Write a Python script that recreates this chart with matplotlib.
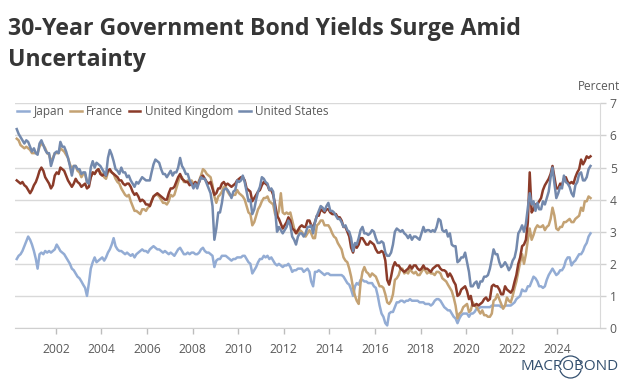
import matplotlib
matplotlib.use("Agg")
import matplotlib.pyplot as plt
import matplotlib.dates as mdates
import pandas as pd
from matplotlib.lines import Line2D
from matplotlib.patches import Arc

# Monthly observations, April 2000 - June 2025 (percent)
start_month = "2000-04-01"

japan = [
    2.15, 2.25, 2.3, 2.4, 2.55, 2.7, 2.85, 2.75, 2.6,
    2.4, 2.15, 1.85, 2.3, 2.35, 2.3, 2.4, 2.35, 2.4, 2.35, 2.4, 2.45,
    2.6, 2.5, 2.4, 2.35, 2.3, 2.2, 2.1, 2.0, 1.85, 1.8, 1.7, 1.6,
    1.55, 1.45, 1.35, 1.25, 1.0, 1.4, 1.85, 2.05, 2.2, 2.05, 2.1, 2.15,
    2.2, 2.1, 2.2, 2.35, 2.45, 2.6, 2.8, 2.55, 2.45, 2.4, 2.4, 2.35,
    2.3, 2.35, 2.3, 2.25, 2.3, 2.2, 2.3, 2.35, 2.4, 2.45, 2.4, 2.4,
    2.35, 2.45, 2.5, 2.55, 2.5, 2.45, 2.45, 2.4, 2.35, 2.4, 2.35, 2.3,
    2.35, 2.3, 2.25, 2.35, 2.45, 2.5, 2.4, 2.3, 2.3, 2.35, 2.3, 2.35,
    2.35, 2.3, 2.3, 2.35, 2.45, 2.5, 2.4, 2.35, 2.35, 2.3, 2.25, 1.9,
    2.1, 2.15, 2.15, 2.25, 2.25, 2.25, 2.2, 2.15, 2.1, 2.15, 2.15, 2.2,
    2.2, 2.2, 2.25, 2.25, 2.15, 2.05, 2.0, 1.7, 1.8, 1.9, 2.05, 2.15,
    2.15, 2.25, 2.2, 2.25, 2.15, 2.2, 2.1, 2.0, 1.95, 2.0, 1.95, 1.9,
    1.95, 1.95, 2.0, 1.9, 1.75, 1.8, 1.8, 1.85, 1.85, 1.85, 1.75, 1.8,
    1.85, 1.75, 1.45, 1.3, 1.75, 1.75, 1.8, 1.75, 1.7, 1.65, 1.7, 1.7,
    1.65, 1.65, 1.65, 1.65, 1.65, 1.65, 1.65, 1.6, 1.5, 1.4, 1.35, 1.2,
    1.0, 1.3, 1.4, 1.35, 1.5, 1.5, 1.45, 1.45, 1.4, 1.4, 1.4, 1.3,
    1.25, 1.0, 0.7, 0.45, 0.35, 0.15, 0.08, 0.45, 0.5, 0.5, 0.65, 0.8,
    0.8, 0.85, 0.85, 0.8, 0.85, 0.85, 0.9, 0.85, 0.85, 0.85, 0.85, 0.8,
    0.8, 0.8, 0.75, 0.75, 0.75, 0.7, 0.75, 0.85, 0.9, 0.9, 0.85, 0.75,
    0.65, 0.6, 0.55, 0.55, 0.45, 0.35, 0.3, 0.15, 0.3, 0.4, 0.45, 0.45,
    0.45, 0.35, 0.45, 0.45, 0.5, 0.6, 0.6, 0.65, 0.65, 0.65, 0.65, 0.65,
    0.65, 0.7, 0.7, 0.7, 0.7, 0.7, 0.65, 0.65, 0.7, 0.7, 0.7, 0.7,
    0.75, 0.8, 0.9, 0.95, 1.0, 1.2, 1.15, 1.15, 1.3, 1.3, 1.45, 1.6,
    1.55, 1.45, 1.3, 1.3, 1.25, 1.3, 1.5, 1.65, 1.75, 1.85, 1.75, 1.65,
    1.7, 1.8, 1.8, 1.9, 2.1, 2.2, 2.2, 1.95, 2.05, 2.1, 2.2, 2.3,
    2.3, 2.4, 2.55, 2.65, 2.85, 2.95,
]

france = [
    5.9, 5.85, 5.7, 5.65, 5.6, 5.65, 5.6, 5.55, 5.45,
    5.45, 5.45, 5.45, 5.65, 5.75, 5.7, 5.6, 5.45, 5.4, 5.2, 5.3, 5.45,
    5.45, 5.45, 5.6, 5.55, 5.5, 5.4, 5.3, 5.1, 4.95, 5.05, 5.05, 4.9,
    4.85, 4.7, 4.8, 4.8, 4.55, 4.5, 4.7, 4.85, 4.8, 4.9, 4.95, 4.85,
    4.8, 4.7, 4.65, 4.85, 4.9, 4.85, 4.8, 4.65, 4.55, 4.5, 4.35, 4.25,
    4.15, 4.1, 4.15, 3.95, 3.8, 3.65, 3.65, 3.6, 3.55, 3.7, 3.7, 3.65,
    3.75, 3.8, 3.95, 4.1, 4.15, 4.15, 4.1, 4.0, 3.9, 3.9, 3.85, 3.95,
    4.15, 4.1, 4.15, 4.35, 4.55, 4.75, 4.7, 4.55, 4.55, 4.6, 4.5, 4.6,
    4.5, 4.55, 4.45, 4.6, 4.75, 4.95, 4.9, 4.8, 4.75, 4.7, 4.45, 4.1,
    3.9, 4.1, 4.15, 4.25, 4.4, 4.4, 4.25, 4.15, 4.1, 4.15, 4.15, 4.3,
    4.2, 4.15, 4.1, 4.0, 3.8, 3.6, 3.55, 3.2, 3.3, 3.5, 3.7, 3.8,
    3.95, 4.05, 4.05, 4.1, 3.95, 3.9, 3.85, 3.55, 3.45, 3.65, 4.2, 3.6,
    3.55, 3.6, 3.55, 3.6, 3.35, 3.1, 3.0, 2.95, 3.05, 3.0, 2.9, 2.85,
    2.95, 3.05, 2.95, 2.8, 2.8, 3.2, 3.25, 3.35, 3.35, 3.2, 3.2, 3.2,
    3.1, 2.95, 2.85, 2.8, 2.65, 2.55, 2.45, 2.2, 2.1, 2.05, 1.85, 1.6,
    1.25, 1.0, 0.85, 0.75, 1.4, 1.75, 1.9, 1.75, 1.7, 1.6, 1.7, 1.65,
    1.6, 1.45, 1.3, 1.3, 1.25, 1.05, 0.8, 0.75, 0.85, 1.05, 1.5, 1.55,
    1.65, 1.85, 1.85, 1.7, 1.75, 1.7, 1.85, 1.75, 1.7, 1.75, 1.65, 1.65,
    1.75, 1.85, 1.8, 1.7, 1.75, 1.7, 1.7, 1.65, 1.75, 1.75, 1.7, 1.55,
    1.5, 1.45, 1.35, 1.25, 1.15, 0.95, 0.7, 0.3, 0.45, 0.5, 0.65, 0.7,
    0.75, 0.5, 0.55, 0.8, 0.7, 0.65, 0.55, 0.45, 0.55, 0.4, 0.4, 0.35,
    0.35, 0.45, 0.85, 0.9, 1.05, 0.9, 0.75, 0.6, 0.7, 0.95, 0.85, 0.8,
    1.0, 1.25, 1.45, 1.75, 2.05, 2.3, 2.0, 2.3, 2.75, 3.1, 2.75, 2.9,
    3.1, 3.2, 3.15, 3.15, 3.2, 3.05, 3.15, 3.2, 3.4, 3.75, 3.5, 3.1,
    3.05, 3.15, 3.15, 3.3, 3.3, 3.35, 3.4, 3.3, 3.3, 3.4, 3.45, 3.5,
    3.75, 3.65, 3.95, 3.95, 4.1, 4.05,
]

united_kingdom = [
    4.6, 4.55, 4.5, 4.55, 4.45, 4.4, 4.3, 4.2, 4.3,
    4.45, 4.55, 4.7, 4.9, 5.0, 4.9, 4.7, 4.6, 4.5, 4.35, 4.45, 4.75,
    4.85, 4.8, 5.0, 4.95, 4.9, 4.75, 4.6, 4.5, 4.4, 4.5, 4.65, 4.55,
    4.5, 4.4, 4.45, 4.5, 4.35, 4.4, 4.7, 4.85, 4.8, 4.9, 4.95, 4.8,
    4.75, 4.8, 4.75, 4.9, 4.95, 4.85, 4.8, 4.75, 4.7, 4.6, 4.6, 4.5,
    4.45, 4.5, 4.5, 4.4, 4.25, 4.15, 4.2, 4.1, 3.95, 4.0, 3.95, 3.85,
    3.85, 3.8, 3.95, 4.1, 4.15, 4.2, 4.15, 4.1, 4.05, 4.0, 4.0, 4.2,
    4.35, 4.35, 4.4, 4.55, 4.7, 4.8, 4.65, 4.6, 4.55, 4.55, 4.45, 4.5,
    4.45, 4.55, 4.45, 4.55, 4.7, 4.75, 4.65, 4.55, 4.5, 4.55, 4.35, 4.15,
    4.2, 4.35, 4.35, 4.5, 4.55, 4.45, 4.5, 4.45, 4.4, 4.45, 4.5, 4.6,
    4.65, 4.7, 4.7, 4.6, 4.35, 4.3, 4.25, 3.95, 4.05, 4.15, 4.25, 4.3,
    4.45, 4.55, 4.5, 4.45, 4.3, 4.3, 4.15, 3.85, 3.5, 3.4, 3.25, 3.1,
    3.2, 3.3, 3.45, 3.35, 3.1, 3.05, 2.95, 3.05, 3.15, 3.2, 3.15, 3.15,
    3.35, 3.35, 3.2, 3.15, 3.3, 3.5, 3.5, 3.7, 3.65, 3.6, 3.7, 3.7,
    3.6, 3.55, 3.55, 3.55, 3.45, 3.45, 3.35, 3.15, 3.15, 3.0, 2.85, 2.5,
    2.35, 2.6, 2.5, 2.6, 2.8, 2.8, 2.7, 2.6, 2.6, 2.7, 2.65, 2.6,
    2.45, 2.35, 2.35, 2.4, 2.35, 2.1, 1.5, 1.35, 1.6, 1.9, 2.05, 1.95,
    1.95, 1.85, 1.8, 1.75, 1.8, 1.85, 1.95, 1.85, 1.95, 1.95, 1.85, 1.8,
    1.85, 1.95, 1.85, 1.85, 1.8, 1.75, 1.85, 1.9, 1.95, 1.95, 1.85, 1.8,
    1.8, 1.75, 1.6, 1.7, 1.6, 1.45, 1.35, 1.0, 1.05, 1.2, 1.25, 1.3,
    1.15, 0.9, 1.0, 0.7, 0.7, 0.75, 0.7, 0.75, 0.8, 0.9, 0.95, 0.85,
    0.9, 1.3, 1.35, 1.3, 1.3, 1.2, 1.05, 1.05, 1.3, 1.2, 1.15, 1.1,
    1.2, 1.45, 1.65, 2.0, 2.2, 2.55, 2.6, 2.75, 3.3, 4.85, 3.6, 3.7,
    3.85, 3.85, 3.95, 4.05, 4.3, 4.45, 4.55, 4.65, 4.8, 5.05, 4.7, 4.35,
    4.35, 4.5, 4.45, 4.65, 4.7, 4.55, 4.5, 4.55, 4.5, 4.7, 4.85, 4.95,
    5.25, 5.1, 5.2, 5.35, 5.3, 5.35,
]

united_states = [
    6.2, 6.05, 5.95, 5.85, 5.75, 5.85, 5.8, 5.65, 5.5,
    5.6, 5.45, 5.4, 5.75, 5.85, 5.7, 5.55, 5.45, 5.45, 5.05, 5.25, 5.45,
    5.5, 5.45, 5.8, 5.65, 5.65, 5.5, 5.3, 5.05, 4.75, 5.05, 5.05, 4.95,
    4.95, 4.8, 4.85, 4.85, 4.55, 4.5, 5.0, 5.2, 5.0, 5.15, 5.1, 5.05,
    4.95, 4.85, 4.75, 5.3, 5.55, 5.4, 5.2, 4.95, 4.9, 4.8, 5.0, 4.85,
    4.85, 4.7, 4.75, 4.6, 4.5, 4.4, 4.55, 4.5, 4.6, 4.7, 4.65, 4.6,
    4.6, 4.6, 4.85, 5.1, 5.25, 5.2, 5.15, 4.95, 4.8, 4.8, 4.7, 4.8,
    4.9, 4.75, 4.85, 4.85, 5.0, 5.3, 5.05, 4.95, 4.8, 4.8, 4.6, 4.5,
    4.35, 4.5, 4.35, 4.55, 4.7, 4.65, 4.65, 4.5, 4.35, 4.2, 3.8, 2.75,
    3.1, 3.6, 3.6, 3.9, 4.3, 4.35, 4.3, 4.2, 4.05, 4.25, 4.3, 4.6,
    4.55, 4.6, 4.75, 4.55, 4.25, 3.95, 4.0, 3.55, 3.7, 4.0, 4.25, 4.4,
    4.7, 4.65, 4.55, 4.5, 4.3, 4.35, 4.25, 3.7, 3.0, 3.15, 3.05, 2.95,
    3.05, 3.15, 3.35, 3.2, 2.85, 2.75, 2.6, 2.85, 2.95, 2.95, 2.85, 2.95,
    3.15, 3.15, 3.2, 2.95, 3.3, 3.5, 3.65, 3.8, 3.75, 3.65, 3.8, 3.9,
    3.65, 3.65, 3.6, 3.5, 3.4, 3.4, 3.3, 3.15, 3.2, 3.05, 3.0, 2.8,
    2.4, 2.65, 2.6, 2.8, 3.05, 3.15, 2.95, 2.95, 2.9, 2.95, 3.05, 3.0,
    2.8, 2.65, 2.65, 2.7, 2.65, 2.35, 2.25, 2.25, 2.35, 2.6, 3.0, 3.1,
    3.05, 3.0, 3.05, 2.95, 2.9, 2.8, 2.9, 2.75, 2.85, 2.85, 2.8, 2.75,
    2.95, 3.15, 3.0, 3.05, 3.05, 3.0, 3.05, 3.0, 3.15, 3.4, 3.35, 3.05,
    3.0, 3.05, 2.85, 2.95, 2.6, 2.55, 2.55, 2.05, 2.1, 2.2, 2.2, 2.35,
    2.05, 1.75, 1.3, 1.3, 1.4, 1.45, 1.25, 1.45, 1.45, 1.6, 1.6, 1.65,
    1.85, 2.15, 2.45, 2.3, 2.3, 2.05, 1.9, 1.95, 2.05, 1.95, 1.8, 1.9,
    2.1, 2.2, 2.45, 2.95, 3.05, 3.2, 3.0, 3.25, 3.75, 4.2, 3.85, 3.95,
    3.65, 3.9, 3.7, 3.7, 3.95, 3.85, 4.05, 4.25, 4.7, 5.0, 4.5, 4.05,
    4.2, 4.4, 4.35, 4.75, 4.55, 4.5, 4.4, 4.2, 4.1, 4.45, 4.55, 4.8,
    4.85, 4.6, 4.6, 4.7, 4.95, 5.05,
]

series_names = ["Japan", "France", "United Kingdom", "United States"]
series_values = [japan, france, united_kingdom, united_states]
series_colors = ["#93acd4", "#c4a273", "#8b3b29", "#7389ad"]

y_ticks = [0, 1, 2, 3, 4, 5, 6, 7]
x_tick_years = list(range(2002, 2025, 2))

title_line1 = "30-Year Government Bond Yields Surge Amid"
title_line2 = "Uncertainty"

plt.rcParams["font.family"] = ["Open Sans", "DejaVu Sans"]

fig = plt.figure(figsize=(6.24, 3.84), dpi=100)
fig.patch.set_facecolor("white")
ax = fig.add_axes([15 / 624, 1 - 328 / 384, 585 / 624, 224.6 / 384])

for name, vals, col in zip(series_names, series_values, series_colors):
    dates = pd.date_range(start_month, periods=len(vals), freq="MS") + pd.Timedelta(days=14)
    ax.plot(dates, vals, color=col, lw=1.8, solid_joinstyle="round", label=name)

ax.set_ylim(0, 7)
ax.set_xlim(pd.Timestamp("2000-03-18"), pd.Timestamp("2025-11-14"))
ax.set_yticks(y_ticks)
ax.yaxis.tick_right()
ax.set_xticks([pd.Timestamp(f"{y}-01-01") for y in x_tick_years])
ax.xaxis.set_major_formatter(mdates.DateFormatter("%Y"))

grid_col = "#d9d9d9"
ax.grid(axis="y", color=grid_col, lw=1.0)
ax.set_axisbelow(True)
for s in ["left", "top"]:
    ax.spines[s].set_visible(False)
ax.spines["bottom"].set_color("#cfcfcf")
ax.spines["right"].set_color("#d9d9d9")
ax.tick_params(axis="x", colors="#595959", labelsize=8.7, length=4, width=1, color="#bdbdbd", pad=7)
ax.tick_params(axis="y", colors="#595959", labelsize=8.7, length=4, width=1, color="#d0d0d0", pad=3)

fig.text(8 / 624, 1 - 35 / 384, title_line1, fontsize=16.7, fontweight="bold", color="#363636", va="baseline", ha="left")
fig.text(8 / 624, 1 - 66 / 384, title_line2, fontsize=16.7, fontweight="bold", color="#363636", va="baseline", ha="left")

fig.text(620 / 624, 1 - 86 / 384, "Percent", fontsize=8.5, color="#595959", ha="right", va="center")

handles = [Line2D([0], [0], color=c, lw=1.8) for c in series_colors]
fig.legend(handles, series_names, loc="center left", bbox_to_anchor=(17 / 624, 1 - 111.5 / 384), ncol=4,
           frameon=False, fontsize=8.5, handlelength=1.0, handletextpad=0.4, columnspacing=0.45,
           labelcolor="#595959", borderaxespad=0, borderpad=0)

logo_col = "#34506f"
fig.text(570 / 624, 1 - 367 / 384, "MACROBOND", fontsize=11, color=logo_col, ha="center", va="center")
fig.add_artist(Arc((570.5 / 624, 1 - 367 / 384), 22 / 624, 22 / 384, theta1=25, theta2=155,
                   transform=fig.transFigure, color=logo_col, lw=0.9))
fig.add_artist(Arc((570.5 / 624, 1 - 367 / 384), 22 / 624, 22 / 384, theta1=205, theta2=335,
                   transform=fig.transFigure, color=logo_col, lw=0.9))

fig.savefig("out.png", dpi=100, facecolor="white")
